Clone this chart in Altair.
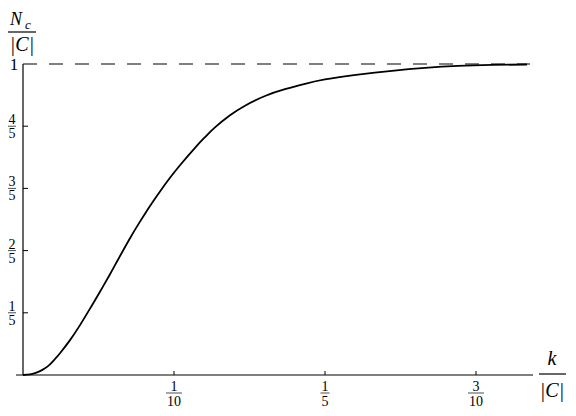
import altair as alt
import pandas as pd

# curve values
k_vals = [0, 0.00464, 0.00795, 0.01126, 0.01457, 0.01788, 0.02119, 0.0245, 0.03113,
          0.03775, 0.04437, 0.05099, 0.05762, 0.06291, 0.07086, 0.07748, 0.08411,
          0.09073, 0.09735, 0.10397, 0.11391, 0.12053, 0.12715, 0.13709, 0.14702,
          0.16026, 0.17351, 0.18675, 0.2, 0.22185, 0.24437, 0.26623, 0.28808,
          0.3106, 0.33377]
n_vals = [0, 0.0022, 0.0062, 0.0125, 0.0218, 0.0343, 0.0514, 0.0701, 0.1121,
          0.1604, 0.2134, 0.2679, 0.3240, 0.3707, 0.4399, 0.4931, 0.5436,
          0.5903, 0.6340, 0.6745, 0.7305, 0.7648, 0.7960, 0.8349, 0.8660,
          0.8972, 0.9190, 0.9361, 0.9502, 0.9657, 0.9782, 0.9875, 0.9938,
          0.9969, 0.9984]

# tick labels
x_ticks = [0.1, 0.2, 0.3]
x_nums = ["1", "1", "3"]
x_dens = ["10", "5", "10"]
y_ticks = [0.2, 0.4, 0.6, 0.8]
y_nums = ["1", "2", "3", "4"]
y_dens = ["5", "5", "5", "5"]
y_top = [1.0]
y_top_lbl = ["1"]
k_end = [0, 0.3358]

W, H = 510, 311
FONT = "Liberation Serif"

xs = alt.Scale(domain=[0, W / 1510], nice=False, zero=True)
ys = alt.Scale(domain=[0, 1], nice=False, zero=True)

curve_df = pd.DataFrame({"k": k_vals, "n": n_vals})
xt_df = pd.DataFrame({"k": x_ticks, "num": x_nums, "den": x_dens})
yt_df = pd.DataFrame({"n": y_ticks, "num": y_nums, "den": y_dens})
ytop_df = pd.DataFrame({"n": y_top, "lbl": y_top_lbl})
dash_df = pd.DataFrame({"k": k_end, "n": [1.0, 1.0]})
one = pd.DataFrame({"a": [0]})

X = lambda: alt.X("k:Q", scale=xs, axis=None)
Y = lambda: alt.Y("n:Q", scale=ys, axis=None)

curve = alt.Chart(curve_df).mark_line(color="black", strokeWidth=1.8, interpolate="natural").encode(x=X(), y=Y())
dash = alt.Chart(dash_df).mark_line(color="black", strokeWidth=1.2, strokeDash=[14, 12]).encode(x=X(), y=Y())

xaxis = alt.Chart(one).mark_rule(color="black", strokeWidth=1.2).encode(
    x=alt.value(-7), x2=alt.value(W), y=alt.value(H))
yaxis = alt.Chart(one).mark_rule(color="black", strokeWidth=1.2).encode(
    x=alt.value(0), y=alt.value(0), y2=alt.value(H))

xtick = alt.Chart(xt_df).mark_rule(color="black", strokeWidth=1).encode(
    x=X(), y=alt.value(H - 4), y2=alt.value(H))
ytick = alt.Chart(yt_df).mark_rule(color="black", strokeWidth=1).encode(
    y=Y(), x=alt.value(0), x2=alt.value(5))

lbl = dict(font=FONT, baseline="alphabetic", align="center", color="black")
xnum = alt.Chart(xt_df).mark_text(fontSize=14, **lbl).encode(
    x=X(), y=alt.value(H + 16), text="num:N")
xden = alt.Chart(xt_df).mark_text(fontSize=14, **lbl).encode(
    x=X(), y=alt.value(H + 31), text="den:N")
xbar = alt.Chart(xt_df).transform_calculate(w="length(datum.den) > 1 ? 16 : 9").mark_tick(
    orient="horizontal", color="black", thickness=1).encode(
    x=X(), y=alt.value(H + 18), size=alt.Size("w:Q", scale=None, legend=None))

ynum = alt.Chart(yt_df).mark_text(fontSize=14, **lbl).encode(
    y=Y(), x=alt.value(-11), yOffset=alt.value(-2), text="num:N")
yden = alt.Chart(yt_df).mark_text(fontSize=14, **lbl).encode(
    y=Y(), x=alt.value(-11), yOffset=alt.value(12), text="den:N")
ybar = alt.Chart(yt_df).mark_tick(orient="horizontal", color="black", thickness=1, size=8).encode(
    y=Y(), x=alt.value(-11))
ytop = alt.Chart(ytop_df).mark_text(fontSize=17, **lbl).encode(
    y=Y(), x=alt.value(-9), yOffset=alt.value(5.5), text="lbl:N")

# axis titles
t_style = dict(font=FONT, fontStyle="italic", baseline="alphabetic", align="center", color="black")
yt_N = alt.Chart(one).mark_text(fontSize=18, text="N", **t_style).encode(x=alt.value(-7), y=alt.value(-39))
yt_c = alt.Chart(one).mark_text(fontSize=13, text="c", **t_style).encode(x=alt.value(5), y=alt.value(-35))
yt_bar = alt.Chart(one).mark_rule(color="black", strokeWidth=1.2).encode(
    x=alt.value(-15), x2=alt.value(13), y=alt.value(-32))
yt_C = alt.Chart(one).mark_text(fontSize=20, text="|C|", **t_style).encode(x=alt.value(-1), y=alt.value(-13))

xt_k = alt.Chart(one).mark_text(fontSize=20, text="k", **t_style).encode(x=alt.value(529), y=alt.value(H - 10))
xt_bar = alt.Chart(one).mark_rule(color="black", strokeWidth=1.2).encode(
    x=alt.value(516), x2=alt.value(543), y=alt.value(H - 1))
xt_C = alt.Chart(one).mark_text(fontSize=20, text="|C|", **t_style).encode(x=alt.value(529), y=alt.value(H + 22))

chart = alt.layer(
    dash, curve, xaxis, yaxis, xtick, ytick, xnum, xden, xbar, ynum, yden, ybar, ytop,
    yt_N, yt_c, yt_bar, yt_C, xt_k, xt_bar, xt_C
).properties(
    width=W, height=H,
    padding={"left": 15, "top": 56, "right": 35, "bottom": 33},
    autosize="none",
).configure_view(stroke=None)

chart.save("out.html", embed_options={"renderer": "svg", "actions": False})
